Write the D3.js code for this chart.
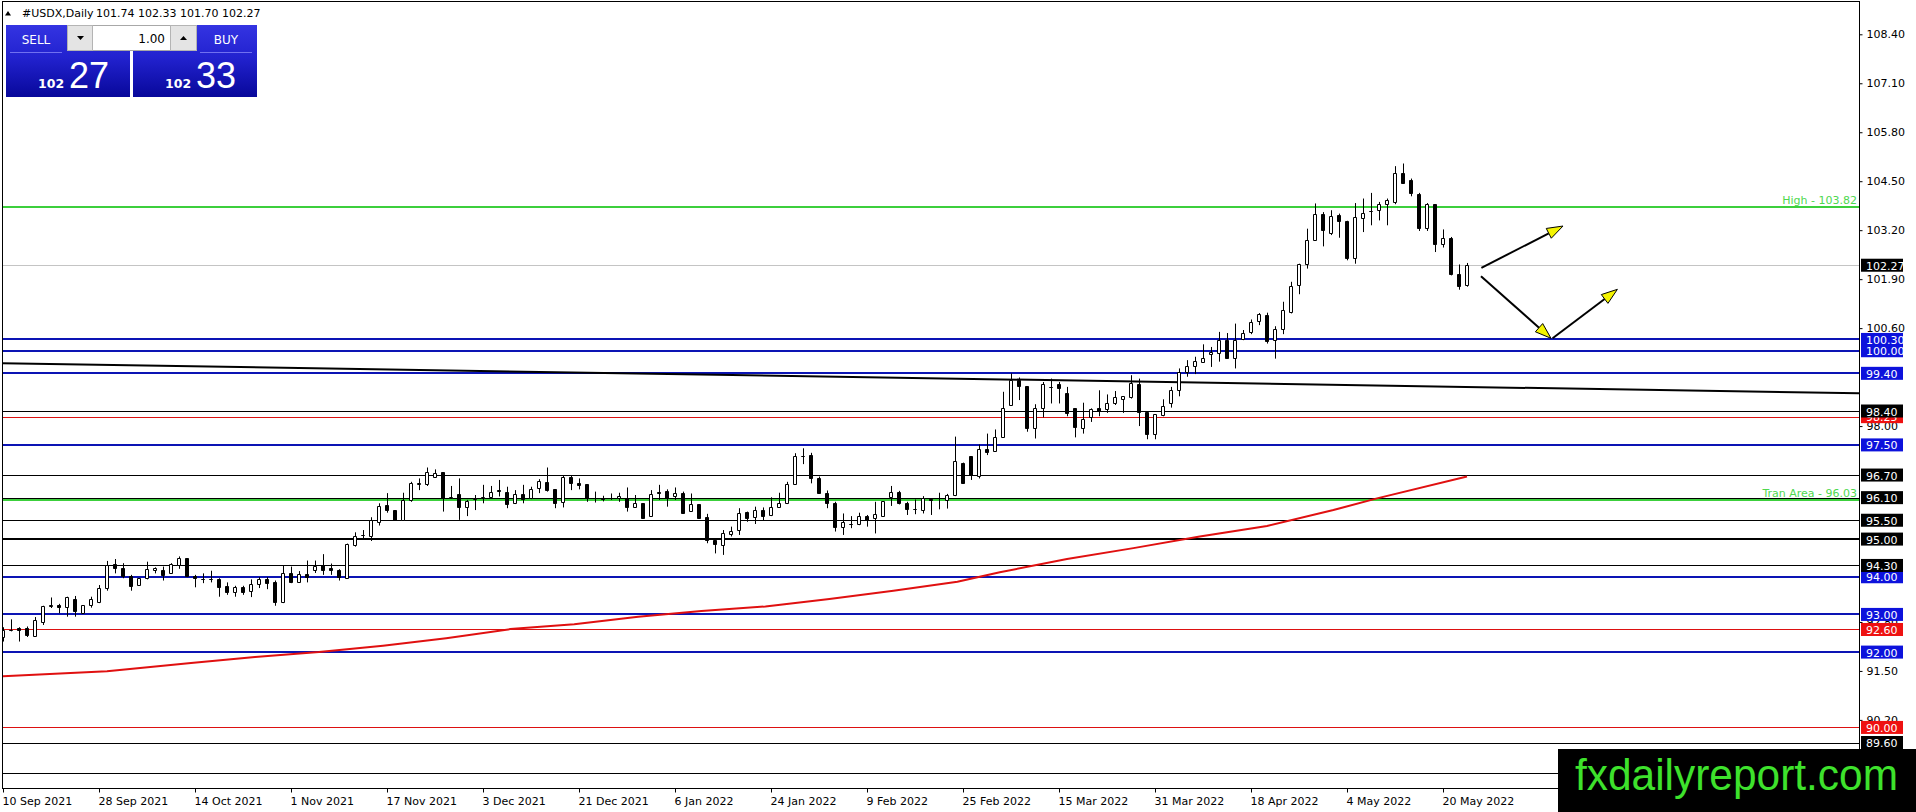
<!DOCTYPE html>
<html lang="en">
<head>
<meta charset="UTF-8">
<title>#USDX,Daily</title>
<script src="https://cdn.jsdelivr.net/npm/d3@7"></script>
<style>
  body { margin: 0; background: #fff; overflow: hidden; }
  svg { display: block; font-family: "DejaVu Sans", sans-serif; }
</style>
</head>
<body>
<div id="chart"></div>
<script>
const width = 1916, height = 812;
const plotLeft = 2, plotTop = 2, plotRight = 1859, plotBottom = 788;

// daily bars from 10 Sep 2021 to 25 May 2022 (184 bars)
const opens = [
  92.40, 92.58, 92.64, 92.64, 92.44, 92.81, 93.23, 93.24, 93.19, 93.40,
  93.05, 93.26, 93.34, 93.70, 94.33, 94.23, 94.02, 93.77, 93.96, 94.19,
  94.18, 94.09, 94.32, 94.49, 94.01, 93.94, 93.94, 93.94, 93.76, 93.59,
  93.72, 93.61, 93.81, 93.94, 93.86, 93.34, 94.09, 93.87, 94.07, 94.18,
  94.30, 94.22, 94.18, 93.97, 94.83, 95.12, 95.09, 95.45, 95.91, 95.77,
  95.51, 96.04, 96.47, 96.46, 96.66, 96.77, 96.09, 96.20, 95.86, 96.06,
  96.10, 96.13, 96.29, 96.26, 95.95, 96.20, 96.08, 96.35, 96.52, 96.32,
  95.99, 96.64, 96.50, 96.46, 96.08, 96.08, 96.10, 96.08, 96.10, 95.86,
  95.95, 95.62, 96.25, 96.28, 96.15, 96.21, 95.75, 95.92, 95.58, 94.98,
  94.83, 95.13, 95.24, 95.71, 95.58, 95.77, 95.64, 95.86, 95.95, 96.45,
  97.20, 97.23, 96.61, 96.23, 95.97, 95.31, 95.40, 95.40, 95.60, 95.55,
  95.62, 96.11, 96.26, 95.97, 95.79, 95.77, 96.06, 96.08, 96.05, 96.17,
  97.03, 97.20, 96.68, 97.39, 97.34, 97.70, 98.57, 99.22, 99.06, 97.96,
  98.47, 99.04, 99.11, 98.87, 98.47, 97.96, 98.25, 98.47, 98.44, 98.60,
  98.71, 98.76, 99.11, 98.38, 97.79, 98.29, 98.60, 98.97, 99.44, 99.59,
  99.71, 99.91, 99.93, 100.28, 99.82, 100.32, 100.50, 100.79, 100.94, 100.28,
  100.59, 101.03, 101.74, 102.29, 102.95, 103.64, 103.13, 103.60, 103.45, 102.47,
  103.53, 103.71, 103.73, 103.89, 103.95, 104.72, 104.54, 104.17, 103.27, 103.89,
  102.84, 103.00, 102.03, 101.74
];
const highs = [
  92.66, 92.87, 92.66, 92.68, 92.93, 93.23, 93.45, 93.28, 93.47, 93.49,
  93.25, 93.47, 93.78, 94.42, 94.47, 94.36, 94.05, 93.96, 94.40, 94.25,
  94.27, 94.36, 94.54, 94.49, 94.05, 94.09, 94.16, 93.96, 93.85, 93.76,
  93.76, 93.93, 93.99, 93.99, 93.90, 94.29, 94.27, 94.15, 94.43, 94.43,
  94.60, 94.35, 94.20, 94.88, 95.18, 95.24, 95.58, 95.95, 96.22, 95.77,
  96.23, 96.52, 96.61, 96.90, 96.85, 96.77, 96.41, 96.61, 96.04, 96.17,
  96.44, 96.41, 96.57, 96.39, 96.30, 96.44, 96.39, 96.59, 96.90, 96.32,
  96.70, 96.68, 96.61, 96.46, 96.26, 96.15, 96.21, 96.23, 96.37, 96.17,
  95.95, 96.30, 96.44, 96.32, 96.37, 96.26, 96.21, 95.92, 95.67, 94.99,
  95.24, 95.33, 95.82, 95.73, 95.86, 95.84, 96.11, 96.23, 96.52, 97.28,
  97.41, 97.29, 96.66, 96.29, 95.99, 95.68, 95.61, 95.70, 95.64, 95.99,
  96.01, 96.41, 96.28, 95.99, 96.05, 96.14, 96.08, 96.23, 96.20, 97.72,
  97.03, 97.20, 97.51, 97.80, 97.91, 98.91, 99.40, 99.29, 99.06, 98.58,
  99.17, 99.26, 99.17, 99.04, 98.47, 98.62, 98.47, 98.95, 98.84, 98.93,
  98.79, 99.35, 99.26, 98.38, 98.32, 98.71, 99.04, 99.53, 99.75, 99.84,
  100.17, 100.10, 100.50, 100.47, 100.72, 100.55, 100.83, 101.00, 101.01, 100.65,
  101.30, 101.83, 102.31, 103.24, 103.91, 103.68, 103.73, 103.64, 103.45, 103.92,
  104.04, 104.19, 103.95, 104.04, 104.90, 104.97, 104.57, 104.19, 103.92, 103.89,
  103.22, 103.02, 102.29, 102.33
];
const lows = [
  92.28, 92.55, 92.28, 92.40, 92.41, 92.72, 93.17, 93.03, 92.94, 92.94,
  93.02, 93.18, 93.30, 93.63, 94.09, 93.96, 93.63, 93.77, 93.93, 94.09,
  93.90, 94.08, 94.21, 93.99, 93.72, 93.83, 93.85, 93.47, 93.52, 93.47,
  93.52, 93.46, 93.70, 93.67, 93.23, 93.30, 93.83, 93.85, 93.85, 94.10,
  94.05, 94.05, 93.90, 93.95, 94.80, 94.98, 94.95, 95.36, 95.70, 95.51,
  95.51, 95.99, 96.30, 96.41, 96.64, 95.73, 96.07, 95.51, 95.61, 95.77,
  95.95, 96.11, 96.13, 95.82, 95.93, 95.95, 96.06, 96.22, 96.26, 95.82,
  95.84, 96.30, 96.32, 95.99, 95.97, 96.00, 96.04, 95.99, 95.73, 95.84,
  95.55, 95.60, 96.04, 95.86, 96.04, 95.68, 95.73, 95.55, 94.89, 94.62,
  94.58, 95.07, 95.11, 95.46, 95.40, 95.49, 95.61, 95.84, 95.93, 96.44,
  96.99, 96.48, 96.20, 95.82, 95.20, 95.11, 95.29, 95.37, 95.33, 95.15,
  95.60, 95.88, 95.92, 95.64, 95.66, 95.68, 95.64, 95.79, 95.81, 96.14,
  96.48, 96.57, 96.61, 97.23, 97.32, 97.70, 98.56, 98.69, 97.85, 97.67,
  98.23, 98.60, 98.60, 98.26, 97.70, 97.80, 98.11, 98.26, 98.35, 98.56,
  98.35, 98.73, 98.00, 97.65, 97.65, 98.26, 98.49, 98.79, 99.31, 99.38,
  99.69, 99.57, 99.71, 99.79, 99.53, 100.28, 100.44, 100.68, 100.19, 99.79,
  100.44, 100.99, 101.50, 102.18, 102.95, 102.77, 103.07, 103.00, 102.40, 102.31,
  103.15, 103.33, 103.46, 103.33, 103.89, 104.44, 104.10, 103.18, 103.18, 102.62,
  102.74, 102.00, 101.62, 101.70
];
const closes = [
  92.58, 92.59, 92.59, 92.46, 92.86, 93.23, 93.24, 93.19, 93.46, 93.08,
  93.25, 93.40, 93.70, 94.31, 94.23, 94.01, 93.76, 93.96, 94.20, 94.22,
  94.05, 94.33, 94.49, 94.01, 93.96, 93.95, 93.94, 93.74, 93.59, 93.72,
  93.59, 93.81, 93.94, 93.83, 93.32, 94.09, 93.86, 94.07, 94.00, 94.29,
  94.18, 94.18, 94.00, 94.86, 95.09, 95.10, 95.51, 95.88, 95.76, 95.51,
  96.04, 96.48, 96.49, 96.79, 96.75, 96.08, 96.11, 95.86, 96.01, 96.08,
  96.11, 96.24, 96.28, 95.93, 96.20, 96.07, 96.32, 96.54, 96.30, 95.95,
  96.64, 96.48, 96.44, 96.08, 96.10, 96.07, 96.10, 96.14, 95.86, 95.95,
  95.55, 96.19, 96.22, 96.10, 96.21, 95.70, 95.92, 95.57, 94.98, 94.87,
  95.15, 95.22, 95.70, 95.55, 95.77, 95.61, 95.86, 95.97, 96.45, 97.20,
  97.20, 96.61, 96.23, 95.97, 95.31, 95.45, 95.39, 95.60, 95.51, 95.66,
  96.01, 96.24, 95.95, 95.79, 95.80, 96.08, 96.05, 96.09, 96.17, 97.07,
  96.50, 96.70, 97.39, 97.32, 97.70, 98.47, 99.22, 99.07, 97.94, 98.49,
  99.11, 99.05, 99.00, 98.35, 97.98, 98.20, 98.44, 98.40, 98.60, 98.76,
  98.79, 99.15, 98.38, 97.79, 98.32, 98.54, 98.97, 99.44, 99.60, 99.73,
  99.82, 99.96, 100.28, 99.82, 100.28, 100.48, 100.75, 100.97, 100.26, 100.59,
  101.09, 101.71, 102.31, 102.95, 103.64, 103.20, 103.58, 103.44, 102.45, 103.55,
  103.66, 103.72, 103.89, 103.99, 104.72, 104.44, 104.19, 103.26, 103.89, 102.84,
  103.00, 102.03, 101.71, 102.27
];

// time axis labels, one every 12 bars
const dateLabels = ["10 Sep 2021", "28 Sep 2021", "14 Oct 2021", "1 Nov 2021", "17 Nov 2021",
  "3 Dec 2021", "21 Dec 2021", "6 Jan 2022", "24 Jan 2022", "9 Feb 2022", "25 Feb 2022",
  "15 Mar 2022", "31 Mar 2022", "18 Apr 2022", "4 May 2022", "20 May 2022"];
const priceTicks = [108.40, 107.10, 105.80, 104.50, 103.20, 101.90, 100.60, 99.30, 98.00,
  96.70, 95.40, 94.10, 92.80, 91.50, 90.20];

// horizontal levels
const blueLevels = [100.30, 100.00, 99.40, 97.50, 94.00, 93.00, 92.00];
const redLevels = [98.25, 92.60, 90.00];
const blackLevels = [98.40, 96.70, 96.10, 95.50, 94.30, 89.60, 88.80];
const boldBlackLevels = [95.00];
const zoneNames = ["High", "Tran Area"];
const zonePrices = [103.82, 96.03];
const lastPrice = 102.27;

// red moving average, read at [bar, price]
const maPoints = [[0, 91.36], [13, 91.49], [23.5, 91.71], [31.5, 91.87], [39.5, 92.00],
  [47.5, 92.17], [55.4, 92.37], [63.4, 92.61], [71.4, 92.74], [79.4, 92.94], [87.3, 93.09],
  [95.3, 93.21], [103.3, 93.41], [111.3, 93.63], [119.3, 93.87], [124.6, 94.12], [133, 94.47],
  [141.3, 94.76], [149.6, 95.07], [158, 95.35], [166.3, 95.77], [171.75, 96.08], [183, 96.66]];
// black trend line [bar, price]
const trendPoints = [[-0.2, 99.67], [232, 98.87]];
// forecast arrows [[bar, price], [bar, price]]
const arrows = [
  [[184.8, 102.20], [195.0, 103.31]],
  [[184.75, 101.98], [193.5, 100.33]],
  [[193.7, 100.33], [201.8, 101.63]]
];

const headerValues = [101.74, 102.33, 101.70, 102.27];
const bidAsk = [102.27, 102.33];
const lotSize = 1.00;

const x = d3.scaleLinear().domain([0, 183]).range([3, 1467]);
const y = d3.scaleLinear().domain([89.6, 108.4]).range([742.5, 34.3]);

const svg = d3.select("#chart").append("svg")
    .attr("width", width)
    .attr("height", height);

const defs = svg.append("defs");
defs.append("clipPath").attr("id", "plot-clip")
  .append("rect")
    .attr("x", plotLeft).attr("y", plotTop)
    .attr("width", plotRight - plotLeft).attr("height", plotBottom - plotTop);

const grad = defs.append("linearGradient").attr("id", "btn-grad")
    .attr("x1", 0).attr("y1", 0).attr("x2", 0).attr("y2", 1);
grad.append("stop").attr("offset", "0%").attr("stop-color", "#3434e2");
grad.append("stop").attr("offset", "45%").attr("stop-color", "#2222cf");
grad.append("stop").attr("offset", "100%").attr("stop-color", "#08089a");

const plot = svg.append("g").attr("clip-path", "url(#plot-clip)");

function hLine(p, color, w) {
  const yy = Math.round(y(p)) + (w % 2 ? 0.5 : 0);
  plot.append("line")
      .attr("x1", plotLeft).attr("x2", plotRight)
      .attr("y1", yy).attr("y2", yy)
      .attr("stroke", color).attr("stroke-width", w);
}

hLine(lastPrice, "#c4c4c4", 1);
redLevels.forEach(p => hLine(p, "#dd1111", 1));
blackLevels.forEach(p => hLine(p, "#000", 1));
boldBlackLevels.forEach(p => hLine(p, "#000", 2));
blueLevels.forEach(p => hLine(p, "#0c14b4", 2));
zonePrices.forEach(p => hLine(p, "#3ccf3c", 2));

// zone text labels
zoneNames.forEach((n, k) => {
  plot.append("text")
      .attr("x", plotRight - 2)
      .attr("y", y(zonePrices[k]) - 3)
      .attr("text-anchor", "end")
      .attr("font-size", 11)
      .attr("fill", "#4fd84f")
      .text(n + " - " + zonePrices[k].toFixed(2));
});

// black trend line
plot.append("path")
    .datum(trendPoints)
    .attr("fill", "none")
    .attr("stroke", "#000")
    .attr("stroke-width", 2)
    .attr("d", d3.line().x(d => x(d[0])).y(d => y(d[1])));

// red moving average
plot.append("path")
    .datum(maPoints)
    .attr("fill", "none")
    .attr("stroke", "#e01010")
    .attr("stroke-width", 2)
    .attr("d", d3.line().x(d => x(d[0])).y(d => y(d[1])));

// candles
const candles = plot.append("g");
opens.forEach((o, i) => {
  const c = closes[i];
  const xr = Math.round(x(i));
  candles.append("line")
      .attr("x1", xr + 0.5).attr("x2", xr + 0.5)
      .attr("y1", y(highs[i])).attr("y2", y(lows[i]))
      .attr("stroke", "#000").attr("stroke-width", 1);
  const top = Math.round(y(Math.max(o, c))) + 0.5;
  const bot = Math.round(y(Math.min(o, c))) + 0.5;
  candles.append("path")
      .attr("d", `M${xr - 1.5},${top}H${xr + 1.5}V${bot}H${xr - 1.5}Z`)
      .attr("fill", c >= o ? "#fff" : "#000")
      .attr("stroke", "#000").attr("stroke-width", 1);
});

// arrows
arrows.forEach(a => {
  const p0 = [x(a[0][0]), y(a[0][1])];
  const p1 = [x(a[1][0]), y(a[1][1])];
  const dx = p1[0] - p0[0], dy = p1[1] - p0[1];
  const len = Math.hypot(dx, dy);
  const ux = dx / len, uy = dy / len;
  const hl = 16, hw = 5.5;
  const bx = p1[0] - ux * hl, by = p1[1] - uy * hl;
  plot.append("line")
      .attr("x1", p0[0]).attr("y1", p0[1])
      .attr("x2", bx).attr("y2", by)
      .attr("stroke", "#000").attr("stroke-width", 2);
  plot.append("path")
      .attr("d", `M${p1[0]},${p1[1]}L${bx - uy * hw},${by + ux * hw}L${bx + uy * hw},${by - ux * hw}Z`)
      .attr("fill", "#f4f400")
      .attr("stroke", "#000")
      .attr("stroke-width", 1);
});

// frame
svg.append("rect")
    .attr("x", plotLeft + 0.5).attr("y", plotTop - 0.5)
    .attr("width", plotRight - plotLeft).attr("height", plotBottom - plotTop + 1)
    .attr("fill", "none").attr("stroke", "#000").attr("stroke-width", 1);

// price axis: tick texts that sit fully under a level box are left out
const boxPrices = redLevels.concat(blueLevels, blackLevels, boldBlackLevels, [lastPrice]);
const shownTicks = priceTicks.filter(t => !boxPrices.some(p => Math.abs(y(p) - y(t)) < 4.5));
const yAxis = svg.append("g")
    .attr("transform", `translate(${plotRight + 0.5},0)`)
    .call(d3.axisRight(y).tickValues(shownTicks).tickSize(3).tickPadding(4)
      .tickFormat(d3.format(".2f")));
yAxis.select(".domain").remove();
yAxis.selectAll("text").attr("font-size", 11).attr("font-family", "DejaVu Sans").attr("fill", "#000");

// time axis
const xAxis = svg.append("g")
    .attr("transform", `translate(0,${plotBottom + 0.5})`)
    .call(d3.axisBottom(x).tickValues(dateLabels.map((d, k) => k * 12)).tickSize(4)
      .tickFormat((d, k) => dateLabels[k]));
xAxis.select(".domain").remove();
xAxis.selectAll("text")
    .attr("font-size", 11).attr("font-family", "DejaVu Sans").attr("fill", "#000")
    .attr("text-anchor", "start").attr("dx", -1).attr("dy", "0.85em");

// price label boxes on the axis
function axisBox(p, color) {
  const yy = y(p);
  const g = svg.append("g");
  g.append("rect")
      .attr("x", plotRight + 2).attr("y", yy - 6.5)
      .attr("width", 42).attr("height", 13)
      .attr("fill", color);
  g.append("text")
      .attr("x", plotRight + 7).attr("y", yy + 4.5)
      .attr("font-size", 11).attr("fill", "#fff")
      .text(p.toFixed(2));
}
redLevels.forEach(p => axisBox(p, "#ee1111"));
blueLevels.forEach(p => axisBox(p, "#0d12dc"));
blackLevels.concat(boldBlackLevels).forEach(p => axisBox(p, "#000"));
axisBox(lastPrice, "#000");

// header line
svg.append("path")
    .attr("d", "M5,15.5L8,11L11,15.5Z")
    .attr("fill", "#000");
svg.append("text")
    .attr("x", 22).attr("y", 17)
    .attr("font-size", 11).attr("fill", "#000")
    .text("#USDX,Daily");
svg.append("text")
    .attr("x", 96).attr("y", 17)
    .attr("font-size", 11).attr("fill", "#000")
    .text(headerValues.map(v => v.toFixed(2)).join(" "));

// one-click trading panel
const panel = svg.append("g");
[[6, "SELL", bidAsk[0]], [133, "BUY", bidAsk[1]]].forEach(([bx, label, price]) => {
  panel.append("rect")
      .attr("x", bx).attr("y", 25).attr("width", 124).attr("height", 72)
      .attr("fill", "url(#btn-grad)");
  const cx = label === "SELL" ? bx + 30 : bx + 93;
  panel.append("line")
      .attr("x1", cx - 26).attr("x2", cx + 26)
      .attr("y1", 52.5).attr("y2", 52.5)
      .attr("stroke", "#7070f0").attr("stroke-width", 1);
  panel.append("text")
      .attr("x", cx).attr("y", 44)
      .attr("text-anchor", "middle")
      .attr("font-size", 12).attr("fill", "#fff")
      .text(label);
  const big = price.toFixed(2).split(".");
  panel.append("text")
      .attr("x", bx + 32).attr("y", 88)
      .attr("font-size", 12.5).attr("font-weight", "bold").attr("fill", "#fff")
      .text(big[0]);
  panel.append("text")
      .attr("x", bx + 63).attr("y", 88)
      .attr("font-family", "Liberation Sans").attr("font-size", 36).attr("fill", "#fff")
      .text(big[1]);
});
panel.append("rect")
    .attr("x", 67.5).attr("y", 25.5).attr("width", 129).attr("height", 25)
    .attr("fill", "#fff").attr("stroke", "#a8a8a8");
panel.append("rect")
    .attr("x", 67.5).attr("y", 25.5).attr("width", 25).attr("height", 25)
    .attr("fill", "#e4e4e4").attr("stroke", "#b4b4b4");
panel.append("rect")
    .attr("x", 170.5).attr("y", 25.5).attr("width", 26).attr("height", 25)
    .attr("fill", "#e4e4e4").attr("stroke", "#b4b4b4");
panel.append("path").attr("d", "M77,36H84L80.5,40Z").attr("fill", "#000");
panel.append("path").attr("d", "M180,40H187L183.5,36Z").attr("fill", "#000");
panel.append("text")
    .attr("x", 165).attr("y", 43)
    .attr("text-anchor", "end")
    .attr("font-size", 12).attr("fill", "#000")
    .text(lotSize.toFixed(2));

// watermark
svg.append("rect")
    .attr("x", 1558).attr("y", 749).attr("width", 358).attr("height", 63)
    .attr("fill", "#000");
svg.append("text")
    .attr("x", 1575).attr("y", 790)
    .attr("font-family", "Liberation Sans").attr("font-size", 45)
    .attr("textLength", 323).attr("lengthAdjust", "spacingAndGlyphs")
    .attr("fill", "#3ee22c")
    .text("fxdailyreport.com");
</script>
</body>
</html>
